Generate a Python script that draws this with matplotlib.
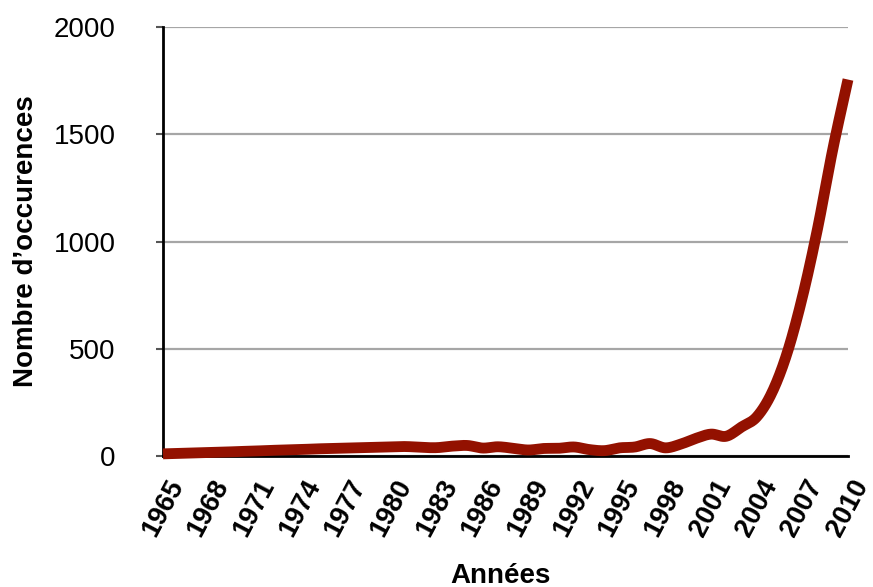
import numpy as np
import matplotlib
matplotlib.use("Agg")
import matplotlib.pyplot as plt

plt.rcParams['font.family'] = ['Liberation Sans', 'DejaVu Sans']

years = list(range(1965, 2011))
occurrences = [10, 12, 14, 16, 18, 21, 23, 26, 28, 30,
               33, 35, 37, 39, 41, 43, 44, 40, 39, 46,
               49, 37, 43, 36, 28, 35, 36, 42, 30, 25,
               38, 42, 58, 38, 55, 82, 102, 92, 135, 182,
               295, 480, 740, 1060, 1430, 1755]
tick_years = list(range(1965, 2011, 3))
y_ticks = [0, 500, 1000, 1500, 2000]


def smooth(x, y, n=20):
    """Catmull-Rom curve through every data point."""
    x = np.asarray(x, float)
    y = np.asarray(y, float)
    px = np.concatenate([[2 * x[0] - x[1]], x, [2 * x[-1] - x[-2]]])
    py = np.concatenate([[2 * y[0] - y[1]], y, [2 * y[-1] - y[-2]]])
    xs, ys = [], []
    t = np.linspace(0, 1, n, endpoint=False)
    for i in range(1, len(px) - 2):
        for p, out in ((px, xs), (py, ys)):
            p0, p1, p2, p3 = p[i - 1], p[i], p[i + 1], p[i + 2]
            out.extend(0.5 * ((2 * p1) + (-p0 + p2) * t
                              + (2 * p0 - 5 * p1 + 4 * p2 - p3) * t ** 2
                              + (-p0 + 3 * p1 - 3 * p2 + p3) * t ** 3))
    xs.append(x[-1])
    ys.append(y[-1])
    return np.array(xs), np.array(ys)


fig = plt.figure(figsize=(8.73, 5.87), dpi=100)
ax = fig.add_axes([163 / 873, 1 - 456 / 587, (848 - 163) / 873, (456 - 27) / 587])

sx, sy = smooth(years, occurrences)
ax.plot(sx, sy, color='#931100', linewidth=7.8, solid_capstyle='butt',
        solid_joinstyle='round', clip_on=False, zorder=3)

ax.set_xlim(1965, 2010)
ax.set_ylim(0, 2000)
ax.set_yticks(y_ticks)
ax.set_yticklabels([str(v) for v in y_ticks], fontsize=20)
ax.set_xticks(tick_years)
ax.set_xticklabels([str(v) for v in tick_years], fontsize=19.5, fontweight='bold',
                   rotation=62, ha='center', va='top')

ax.yaxis.grid(True, color='#a6a6a6', linewidth=1.6)
ax.set_axisbelow(True)
for side in ('top', 'right'):
    ax.spines[side].set_visible(False)
for side in ('left', 'bottom'):
    ax.spines[side].set_linewidth(2)
    ax.spines[side].set_color('black')

ax.tick_params(axis='y', length=5, width=1.5, pad=29, color='#555555')
ax.tick_params(axis='x', length=0, pad=14)

ax.set_xlabel('Années', fontsize=20, fontweight='bold', va='center')
ax.xaxis.set_label_coords(0.492, -0.279)
ax.set_ylabel('Nombre d\u2019occurences', fontsize=20, fontweight='bold', va='center')
ax.yaxis.set_label_coords(-0.2, 0.5)

fig.savefig('out.png', dpi=100)
